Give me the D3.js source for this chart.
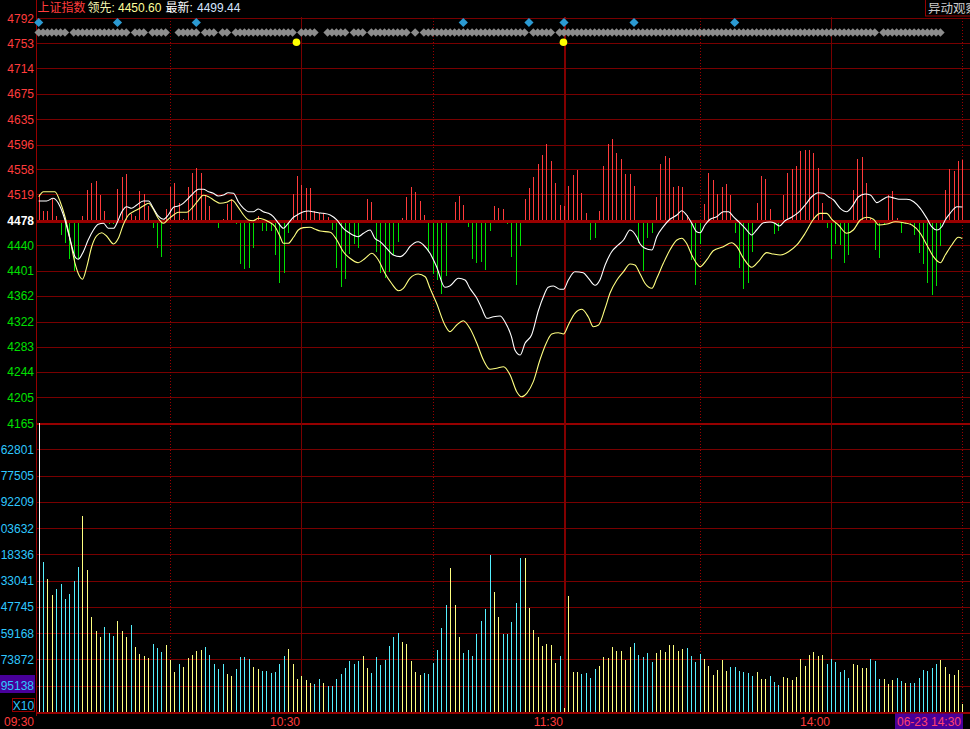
<!DOCTYPE html>
<html><head><meta charset="utf-8">
<script src="https://cdn.jsdelivr.net/npm/d3@7"></script>
<style>
html,body{margin:0;padding:0;background:#000;overflow:hidden}
svg{display:block}
</style></head><body>
<svg id="c" width="970" height="729"></svg>
<script>
// ---------- DATA ----------
const prevClose = 4478;
const priceTicks = [4792,4753,4714,4675,4635,4596,4558,4519,4478,4440,4401,4362,4322,4283,4244,4205,4165];
const volTickLabels = ["62801","77505","92209","03632","18336","33041","47745","59168","73872","95138"];
const timeLabels = [{m:0,t:"09:30"},{m:60,t:"10:30"},{m:120,t:"11:30"},{m:181,t:"14:00"}];
const solidMinutes = [60,120,181];
const dottedMinutes = [30,90,151,211];
const lastPrice = 4499.44, leadPrice = 4450.60;

// white line = index, yellow = 领先 (minute since open, price)
const whiteLine = [[0,4508.7],[1.8,4508.7],[3.3,4512.9],[4.9,4499.9],[6.0,4479.3],[7.2,4448.3],[8.3,4422.5],[9.0,4418.4],[10.2,4430.2],[11.3,4448.3],[12.5,4463.8],[13.6,4472.6],[14.8,4474.2],[15.9,4466.4],[17.1,4466.4],[18.0,4476.6],[19.0,4492.1],[20.1,4499.9],[21.2,4497.4],[22.4,4502.5],[23.9,4508.7],[25.1,4508.7],[26.2,4497.4],[27.3,4485.5],[28.5,4480.4],[29.6,4487.0],[30.8,4498.9],[31.9,4500.9],[33.0,4505.1],[34.2,4512.9],[35.3,4520.6],[36.5,4526.8],[37.6,4526.8],[38.8,4523.1],[39.9,4520.6],[41.0,4516.4],[42.2,4518.0],[43.3,4521.5],[44.5,4520.6],[45.6,4507.6],[46.8,4497.4],[47.9,4492.1],[49.0,4492.1],[50.2,4496.3],[51.3,4492.1],[52.5,4489.6],[53.6,4484.4],[54.8,4474.2],[55.9,4466.4],[57.0,4474.2],[58.2,4483.5],[59.3,4488.1],[60.5,4492.1],[61.6,4493.2],[62.7,4492.1],[63.9,4490.6],[65.0,4489.6],[66.6,4487.0],[68.1,4479.3],[69.6,4466.4],[71.1,4458.7],[73.0,4453.4],[74.2,4458.7],[75.7,4463.8],[76.8,4450.9],[78.0,4445.7],[79.5,4435.5],[81.0,4425.1],[82.6,4422.5],[83.7,4427.7],[84.8,4437.9],[86.7,4445.7],[87.9,4440.6],[89.4,4427.7],[90.9,4407.0],[92.8,4375.1],[93.9,4377.1],[95.9,4389.0],[97.4,4386.4],[98.5,4373.5],[100.1,4358.1],[101.2,4342.6],[102.4,4327.1],[103.9,4329.6],[105.4,4330.7],[106.5,4321.8],[108.0,4298.6],[108.8,4278.0],[110.0,4270.3],[111.1,4288.4],[112.6,4301.3],[114.2,4340.0],[115.3,4360.5],[116.4,4375.1],[117.6,4377.1],[119.1,4372.0],[119.9,4372.0],[121.0,4386.4],[122.5,4399.2],[124.4,4397.7],[125.6,4389.0],[127.1,4378.2],[128.2,4386.4],[129.4,4409.6],[130.9,4430.2],[132.4,4440.6],[133.6,4448.3],[135.1,4463.8],[136.6,4453.4],[137.4,4442.1],[138.5,4435.5],[140.1,4432.8],[141.2,4453.4],[142.7,4468.9],[144.2,4480.4],[145.8,4487.0],[146.9,4493.7],[148.0,4487.0],[149.2,4474.2],[150.3,4461.2],[151.1,4459.6],[152.2,4471.5],[153.4,4480.4],[154.9,4484.4],[156.4,4492.1],[157.6,4492.1],[158.7,4484.4],[159.9,4476.6],[161.4,4466.4],[162.9,4456.1],[164.0,4463.8],[165.6,4475.1],[167.1,4476.2],[168.2,4474.2],[169.2,4470.0],[170.5,4478.2],[172.0,4483.5],[173.5,4490.6],[175.1,4502.5],[176.6,4515.3],[178.1,4521.5],[179.3,4520.6],[180.4,4515.3],[181.6,4510.2],[183.1,4497.4],[184.6,4492.1],[185.8,4499.9],[187.3,4515.3],[188.8,4519.5],[190.0,4518.0],[191.5,4506.1],[192.6,4510.2],[194.1,4515.3],[195.6,4512.9],[196.8,4511.3],[198.3,4511.3],[199.9,4507.6],[201.4,4497.4],[202.9,4481.9],[204.0,4468.9],[205.2,4463.8],[206.3,4468.9],[207.1,4479.3],[208.2,4489.6],[209.8,4499.9],[211,4499.4]];

const yellowLine = [[0,4515.3],[1.1,4523.1],[3.7,4523.1],[4.9,4507.6],[6.0,4484.4],[7.2,4448.3],[8.3,4412.2],[9.4,4391.5],[10.0,4387.5],[11.0,4407.0],[12.1,4437.9],[13.2,4454.5],[14.4,4459.6],[15.5,4454.5],[17.1,4442.1],[18.2,4450.9],[19.3,4471.5],[20.5,4487.0],[21.6,4492.1],[22.8,4496.3],[23.9,4500.9],[25.1,4505.1],[26.2,4495.8],[27.3,4481.9],[28.5,4474.2],[29.6,4480.4],[30.8,4487.0],[31.9,4491.2],[33.8,4491.2],[35.3,4499.9],[36.5,4510.2],[37.6,4517.5],[38.8,4515.3],[40.3,4508.7],[41.4,4505.1],[42.9,4506.7],[44.1,4510.2],[45.6,4498.9],[46.8,4487.0],[47.9,4479.3],[49.0,4478.2],[50.2,4481.9],[51.3,4480.4],[52.5,4476.6],[54.0,4468.9],[55.1,4454.5],[55.9,4443.2],[57.0,4443.2],[58.2,4452.5],[59.3,4463.8],[60.5,4467.4],[62.0,4468.0],[63.2,4464.9],[64.3,4462.2],[66.6,4460.4],[68.1,4448.3],[69.6,4430.2],[71.1,4420.0],[73.0,4413.2],[74.6,4420.0],[76.1,4427.7],[77.6,4417.4],[79.1,4396.8],[80.6,4381.3],[82.2,4369.8],[83.3,4373.5],[84.8,4389.0],[86.7,4395.7],[88.3,4391.5],[89.4,4373.5],[90.9,4350.3],[92.8,4316.7],[93.9,4306.4],[95.5,4316.7],[97.0,4323.4],[98.5,4311.6],[100.1,4288.4],[101.6,4262.5],[103.1,4248.2],[104.6,4249.7],[106.2,4252.2],[107.7,4239.3],[109.2,4213.5],[110.3,4205.7],[111.5,4211.0],[113.0,4229.0],[114.5,4262.5],[116.1,4290.9],[117.2,4302.8],[118.7,4304.8],[119.9,4302.8],[121.0,4316.7],[122.5,4334.8],[124.1,4341.0],[125.6,4328.7],[126.7,4314.1],[127.9,4316.7],[129.4,4342.6],[130.5,4365.8],[132.1,4386.4],[133.6,4399.2],[135.1,4411.2],[136.2,4409.6],[137.4,4395.7],[138.5,4381.3],[140.1,4373.5],[141.2,4389.0],[142.7,4412.2],[144.2,4432.8],[145.8,4448.3],[146.9,4451.0],[148.0,4443.2],[149.2,4425.1],[150.3,4412.2],[151.1,4407.0],[152.6,4417.4],[154.1,4431.7],[156.4,4437.9],[158.3,4444.1],[159.5,4437.9],[161.0,4420.0],[162.9,4406.1],[164.4,4414.7],[166.3,4428.7],[167.8,4426.6],[169.4,4425.1],[171.3,4430.2],[173.2,4440.6],[175.1,4458.7],[177.0,4480.4],[178.5,4489.6],[180.0,4489.6],[181.2,4480.4],[182.7,4471.5],[184.6,4458.7],[186.1,4463.8],[187.7,4479.3],[189.2,4483.5],[190.7,4480.4],[191.9,4471.5],[193.8,4473.1],[195.7,4476.6],[197.6,4475.1],[199.5,4471.5],[201.4,4458.7],[202.9,4440.6],[204.4,4422.5],[206.0,4413.2],[207.1,4425.1],[208.6,4440.6],[210.1,4452.5],[211,4450.6]];

// buy/sell strength per minute (+ red, - green)
const strength = [27,10,10,22,5,-14,-22,-38,-50,-38,5,31,38,40,26,10,-3,-3,32,44,47,7,5,30,27,15,-7,-27,-36,12,
34,38,18,2,34,48,53,48,25,15,-1,-7,2,17,22,-3,-43,-48,-47,-27,5,-10,-10,-10,-34,-62,-52,-12,27,45,
36,33,33,10,8,8,4,-9,-47,-66,-58,-33,-23,-27,1,22,19,-31,-52,-57,-51,-34,-21,3,24,34,29,20,6,-31,
-53,-59,-73,-55,-1,19,25,16,-6,-38,-42,-41,-49,-10,15,13,12,-3,-36,-64,-25,22,33,44,57,66,77,60,38,16,
15,35,46,51,28,8,-19,-17,10,55,77,82,68,62,47,47,35,-22,-50,-17,-12,24,57,65,63,34,35,34,6,-39,
-64,-23,17,48,41,27,34,37,26,-12,-47,-68,-62,-31,18,45,42,12,-13,-10,26,48,52,55,70,71,71,68,53,18,
-7,-38,-23,-24,-42,-34,31,62,64,38,3,-29,-37,-4,26,30,3,-12,-3,-3,-14,-32,-43,-62,-74,-65,-25,31,52,50,
60,61];

// volume per minute (relative units)
const volume = [289,150,133,117,123,128,113,118,131,145,196,142,95,81,75,85,79,76,91,81,75,87,65,58,56,54,68,64,60,67,
52,40,48,45,54,57,61,62,65,57,48,43,48,38,36,43,55,55,53,45,43,41,41,39,40,48,56,63,48,33,
36,32,29,28,33,29,26,26,33,38,44,51,48,51,56,44,39,55,47,52,66,75,79,70,68,51,40,37,39,38,
49,62,84,107,144,107,75,59,62,56,78,91,103,157,120,95,78,78,90,109,154,154,104,82,75,66,68,67,49,56,
4,116,40,40,38,39,34,43,46,55,54,65,61,61,52,65,69,57,55,59,50,59,62,60,67,67,61,63,64,56,
50,58,53,46,37,42,52,41,45,45,41,40,39,36,40,33,33,36,30,27,35,34,32,35,53,46,57,60,56,57,
48,53,50,40,42,34,48,47,44,44,53,51,33,33,28,32,34,31,29,29,29,34,42,41,44,48,52,45,38,37,
42,8];
const volMax = 289;
// bar colour code per minute: w white, c cyan, y yellow
const volColor = "w c yy cccccc yyyyy ccc yyy c yyyy ccc yyy c yyyyy ccccc yy cccc yy cccccc yyyyyy cc y cccccccc yy ccccccc yyyyy cccccc yyy ccccccc yy ccccc yyyyyyyy c yyyy cccc yyyyyyyy ccccc yyyyyyy cccc yyyyyy cccccc yyy ccc yyyyyyyyyy cccccc yyyy ccc yyy cc y ccccccc yyyyyy".replace(/ /g,"");

// top markers (minutes)
const grayRuns = [[0,6],[8,20],[22,24],[26,29],[32,36],[38,40],[42,43],[45,58],[60,63],[66,70],[72,74],[76,84],[86,86],[88,111],[113,117],[119,191],[193,206]];
const blueMarks = [0,18,36,97,112,120,136,159];
const yellowMarks = [59,120];

// ---------- DRAW ----------
const W = 970, H = 729;
const svg = d3.select("#c");
const FONT = "'Liberation Sans', Arial, 'Noto Sans CJK SC', sans-serif";
const GRID = "#780000", AXIS = "#960000";
const axisX = 36.5;

const x = d3.scaleLinear().domain([0, 211]).range([38.7, 962.3]);
const yP = d3.scaleLinear().domain([4165, 4792]).range([423, 18]);
const y0 = yP(prevClose);
const yS = d3.scaleLinear().domain([-100, 100]).range([y0 + 100, y0 - 100]);
const yV = d3.scaleLinear().domain([0, volMax]).range([712, 423]);
const px = v => Math.round(v) + 0.5;

svg.append("rect").attr("width", W).attr("height", H).attr("fill", "#000");

const g = svg.append("g").attr("shape-rendering", "crispEdges");

// price grid
g.selectAll(".pg").data(priceTicks).join("line")
  .attr("x1", axisX).attr("x2", W)
  .attr("y1", d => px(yP(d))).attr("y2", d => px(yP(d)))
  .attr("stroke", d => d === 4165 ? AXIS : GRID)
  .attr("stroke-width", d => d === 4165 ? 2 : 1);

// volume grid
const volFr = d3.range(1, 11).map(k => volMax * (11 - k) / 11);
g.selectAll(".vg").data(volFr).join("line")
  .attr("x1", axisX).attr("x2", W)
  .attr("y1", d => px(yV(d))).attr("y2", d => px(yV(d)))
  .attr("stroke", GRID).attr("stroke-width", 1);

// vertical time lines
g.selectAll(".vs").data(solidMinutes).join("line")
  .attr("x1", d => px(x(d))).attr("x2", d => px(x(d)))
  .attr("y1", 17).attr("y2", 712)
  .attr("stroke", d => d === 120 ? "#820000" : GRID)
  .attr("stroke-width", d => d === 120 ? 2 : 1);
g.selectAll(".vd").data(dottedMinutes).join("line")
  .attr("x1", d => px(x(d))).attr("x2", d => px(x(d)))
  .attr("y1", 18).attr("y2", 712)
  .attr("stroke", "#9a0000").attr("stroke-width", 1)
  .attr("stroke-dasharray", "1,2");

// strength bars
g.selectAll(".sb").data(strength).join("line")
  .attr("x1", (d, i) => px(x(i))).attr("x2", (d, i) => px(x(i)))
  .attr("y1", y0).attr("y2", d => yS(d))
  .attr("stroke", d => d >= 0 ? "#ff3b3b" : "#00e000")
  .attr("stroke-width", 1);

// baseline (previous close)
g.append("line").attr("x1", axisX).attr("x2", W)
  .attr("y1", Math.round(y0)).attr("y2", Math.round(y0))
  .attr("stroke", "#9a0000").attr("stroke-width", 3);

// volume bars
const vc = {w: "#ffffff", c: "#55f0ff", y: "#ffff80"};
g.selectAll(".vb").data(volume).join("line")
  .attr("x1", (d, i) => px(x(i))).attr("x2", (d, i) => px(x(i)))
  .attr("y1", 712).attr("y2", d => yV(d))
  .attr("stroke", (d, i) => vc[volColor[i]]).attr("stroke-width", 1);

// axes
g.append("line").attr("x1", axisX).attr("x2", axisX).attr("y1", 0).attr("y2", 716)
  .attr("stroke", AXIS).attr("stroke-width", 1);
g.append("line").attr("x1", axisX).attr("x2", W).attr("y1", 712.5).attr("y2", 712.5)
  .attr("stroke", AXIS).attr("stroke-width", 2);

// price lines
const line = d3.line().x(d => x(d[0])).y(d => yP(d[1])).curve(d3.curveMonotoneX);
svg.append("path").datum(yellowLine).attr("d", line)
  .attr("fill", "none").attr("stroke", "#ffff80").attr("stroke-width", 1.1);
svg.append("path").datum(whiteLine).attr("d", line)
  .attr("fill", "none").attr("stroke", "#ffffff").attr("stroke-width", 1.1);

// markers
const grayMin = grayRuns.flatMap(r => d3.range(r[0], r[1] + 1));
const dGray = d3.symbol(d3.symbolSquare).size(36)();
const dBlue = d3.symbol(d3.symbolSquare).size(42)();
svg.selectAll(".gm").data(grayMin).join("path")
  .attr("d", dGray)
  .attr("transform", d => `translate(${x(d)},32.5) rotate(45)`)
  .attr("fill", "#8c8c8c");
svg.selectAll(".bm").data(blueMarks).join("path")
  .attr("d", dBlue)
  .attr("transform", d => `translate(${x(d)},22.5) rotate(45)`)
  .attr("fill", "#2b9ad2");
svg.selectAll(".ym").data(yellowMarks).join("circle")
  .attr("cx", d => x(d) - 0.5).attr("cy", 42.3).attr("r", 3.8)
  .attr("fill", "#ffff00");

// price labels
svg.selectAll(".pl").data(priceTicks).join("text")
  .attr("x", 34).attr("y", d => yP(d) + 4.5)
  .attr("text-anchor", "end")
  .attr("font-family", FONT).attr("font-size", 12)
  .attr("fill", d => d > prevClose ? "#ff3c3c" : (d === prevClose ? "#ffffff" : "#00e000"))
  .attr("font-weight", d => d === prevClose ? "bold" : "normal")
  .text(d => d);

// volume labels
svg.append("rect").attr("x", 0).attr("y", 675).attr("width", 35).attr("height", 18).attr("fill", "#48009a");
svg.selectAll(".vl").data(volTickLabels).join("text")
  .attr("x", 34).attr("y", (d, i) => yV(volFr[i]) + 4.5)
  .attr("text-anchor", "end")
  .attr("font-family", FONT).attr("font-size", 12)
  .attr("fill", "#2ec8ff")
  .text(d => d);
svg.append("rect").attr("x", 12.5).attr("y", 698.5).attr("width", 22).attr("height", 13)
  .attr("fill", "none").attr("stroke", AXIS);
svg.append("text").attr("x", 23.5).attr("y", 709.5).attr("text-anchor", "middle")
  .attr("font-family", FONT).attr("font-size", 12).attr("fill", "#2ec8ff").text("X10");

// time labels
svg.selectAll(".tl").data(timeLabels).join("text")
  .attr("x", d => d.m === 0 ? 34 : Math.round(x(d.m)) - 1)
  .attr("y", 725.5).attr("text-anchor", "end")
  .attr("font-family", FONT).attr("font-size", 12).attr("fill", "#ff3c3c")
  .text(d => d.t);
svg.append("rect").attr("x", 895).attr("y", 713.5).attr("width", 68).attr("height", 16).attr("fill", "#48009a");
svg.append("text").attr("x", 929).attr("y", 725.5).attr("text-anchor", "middle")
  .attr("font-family", FONT).attr("font-size", 12).attr("fill", "#ff4070").text("06-23 14:30");

// title
const title = [
  {x: 37.5, t: "上证指数", c: "#ff3c3c"},
  {x: 87.5, t: "领先:", c: "#f4f4b0"},
  {x: 118, t: leadPrice.toFixed(2), c: "#ffff9a"},
  {x: 165.5, t: "最新:", c: "#ffffff"},
  {x: 197, t: lastPrice.toFixed(2), c: "#d6e6ff"}
];
svg.selectAll(".tt").data(title).join("text")
  .attr("x", d => d.x).attr("y", 12)
  .attr("font-family", FONT).attr("font-size", 12).attr("fill", d => d.c)
  .text(d => d.t);

// right box (partly outside the frame, as in the source)
svg.append("rect").attr("x", 925.5).attr("y", -1).attr("width", 60).attr("height", 17)
  .attr("fill", "#000").attr("stroke", AXIS);
svg.append("text").attr("x", 928).attr("y", 13).attr("font-family", FONT).attr("font-size", 12.5)
  .attr("fill", "#cccccc").text("异动观察");
</script>
</body></html>
